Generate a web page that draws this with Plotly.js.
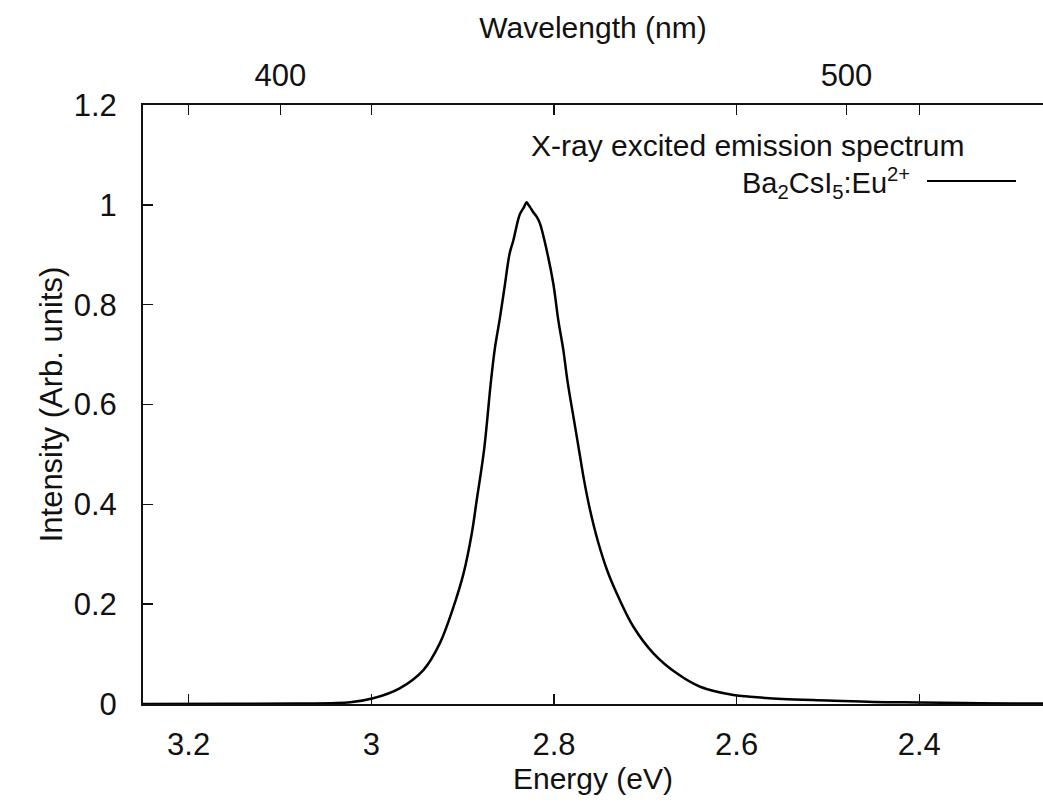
<!DOCTYPE html>
<html>
<head>
<meta charset="utf-8">
<script src="https://cdn.plot.ly/plotly-3.0.1.min.js"></script>
<style>html,body{margin:0;padding:0;background:#fff;overflow:hidden;}</style>
</head>
<body>
<div id="chart" style="width:1043px;height:805px;"></div>
<script>
// Emission spectrum: photon energy (eV) and normalised intensity
const energy = [3.25, 3.15, 3.078, 3.023, 2.998, 2.969, 2.943, 2.925, 2.910, 2.899, 2.890, 2.8846,
  2.8766, 2.8689, 2.8645, 2.8596, 2.8541, 2.8486, 2.8445, 2.839, 2.8371, 2.833, 2.830, 2.828, 2.826,
  2.8226, 2.8185, 2.8152, 2.8079, 2.8007, 2.7952, 2.7897, 2.7853, 2.778, 2.7725, 2.767, 2.7604, 2.7522,
  2.7418, 2.7312, 2.713, 2.6911, 2.6655, 2.640, 2.6035, 2.5852, 2.55, 2.50, 2.45, 2.40, 2.35, 2.30, 2.26];
const intensity = [0.0, 0.0005, 0.001, 0.0034, 0.0114, 0.0314, 0.068, 0.1215, 0.1947, 0.2616, 0.3416, 0.4082,
  0.508, 0.6484, 0.715, 0.7685, 0.8351, 0.902, 0.9286, 0.972, 0.982, 0.995, 1.005, 1.0, 0.995,
  0.985, 0.975, 0.962, 0.9086, 0.842, 0.7685, 0.7084, 0.6484, 0.568, 0.508, 0.448, 0.388, 0.328,
  0.268, 0.2215, 0.1547, 0.1015, 0.0614, 0.0346, 0.018, 0.0146, 0.010, 0.007, 0.004, 0.003, 0.002, 0.001, 0.001];

const energyTicks = [3.2, 3.0, 2.8, 2.6, 2.4];
const energyTickText = ['3.2', '3', '2.8', '2.6', '2.4'];
const wavelengthTicks = [400, 500];           // nm, top axis
const intensityTicks = [0, 0.2, 0.4, 0.6, 0.8, 1.0, 1.2];
const intensityTickText = ['0', '0.2', '0.4', '0.6', '0.8', '1', '1.2'];

const HC = 1239.84; // eV*nm, converts wavelength tick labels to energy positions
const xRange = [3.25, 2.2645];

const fontFam = '"Liberation Sans", Arial, Helvetica, sans-serif';
const tickFont = {family: fontFam, size: 31, color: '#111'};
const titleFont = {family: fontFam, size: 30, color: '#111'};

const trace = {
  x: energy, y: intensity, type: 'scatter', mode: 'lines',
  line: {color: '#000', width: 2.5, shape: 'spline', smoothing: 1},
  showlegend: false, hoverinfo: 'x+y'
};
// invisible companion so the top (wavelength) axis is drawn
const topAxisTrace = {
  x: energy, y: intensity, xaxis: 'x2', yaxis: 'y', type: 'scatter', mode: 'lines',
  line: {width: 0}, opacity: 0, showlegend: false, hoverinfo: 'skip'
};

// paper coordinates for the legend entry
const L = 143, R = 1043, T = 105, B = 704;
const px = v => (v - L) / (R - L);
const py = v => (B - v) / (B - T);

const layout = {
  width: 1043, height: 805,
  margin: {l: 143, r: 0, t: 105, b: 101},
  paper_bgcolor: '#fff', plot_bgcolor: '#fff',
  showlegend: false,
  xaxis: {
    range: xRange, tickvals: energyTicks, ticktext: energyTickText,
    ticks: 'inside', ticklen: 10, tickwidth: 1.5, tickcolor: '#111',
    showline: true, linewidth: 2, linecolor: '#111', mirror: 'ticks',
    showgrid: false, zeroline: false, tickfont: tickFont, ticklabelstandoff: 12,
    title: {text: 'Energy (eV)', font: titleFont, standoff: 6}
  },
  xaxis2: {
    overlaying: 'x', side: 'top', anchor: 'y', range: xRange,
    tickvals: wavelengthTicks.map(w => HC / w), ticktext: wavelengthTicks.map(String),
    ticks: 'inside', ticklen: 10, tickwidth: 1.5, tickcolor: '#111',
    showline: false, showgrid: false, zeroline: false, tickfont: tickFont, ticklabelstandoff: 12,
    title: {text: 'Wavelength (nm)', font: titleFont, standoff: 10}
  },
  yaxis: {
    range: [0, 1.2], tickvals: intensityTicks, ticktext: intensityTickText,
    ticks: 'inside', ticklen: 10, tickwidth: 1.5, tickcolor: '#111',
    showline: true, linewidth: 2, linecolor: '#111', mirror: false,
    showgrid: false, zeroline: false, tickfont: tickFont, ticklabelstandoff: 18,
    title: {text: 'Intensity (Arb. units)', font: {family: fontFam, size: 31, color: '#111'}, standoff: 2}
  },
  annotations: [
    {xref: 'paper', yref: 'paper', x: px(966), y: py(146), xanchor: 'right', yanchor: 'middle',
     text: 'X-ray excited emission spectrum', showarrow: false, font: {family: fontFam, size: 30, color: '#111'}},
    {xref: 'paper', yref: 'paper', x: px(912), y: py(183), xanchor: 'right', yanchor: 'middle',
     text: 'Ba<sub>2</sub>CsI<sub>5</sub>:Eu<sup>2+</sup>', showarrow: false, font: {family: fontFam, size: 29, color: '#111'}}
  ],
  shapes: [
    {type: 'line', xref: 'paper', yref: 'paper', x0: px(927), x1: px(1016), y0: py(181), y1: py(181),
     line: {color: '#000', width: 2}}
  ]
};

Plotly.newPlot('chart', [trace, topAxisTrace], layout, {displayModeBar: false, staticPlot: true});
</script>
</body>
</html>
